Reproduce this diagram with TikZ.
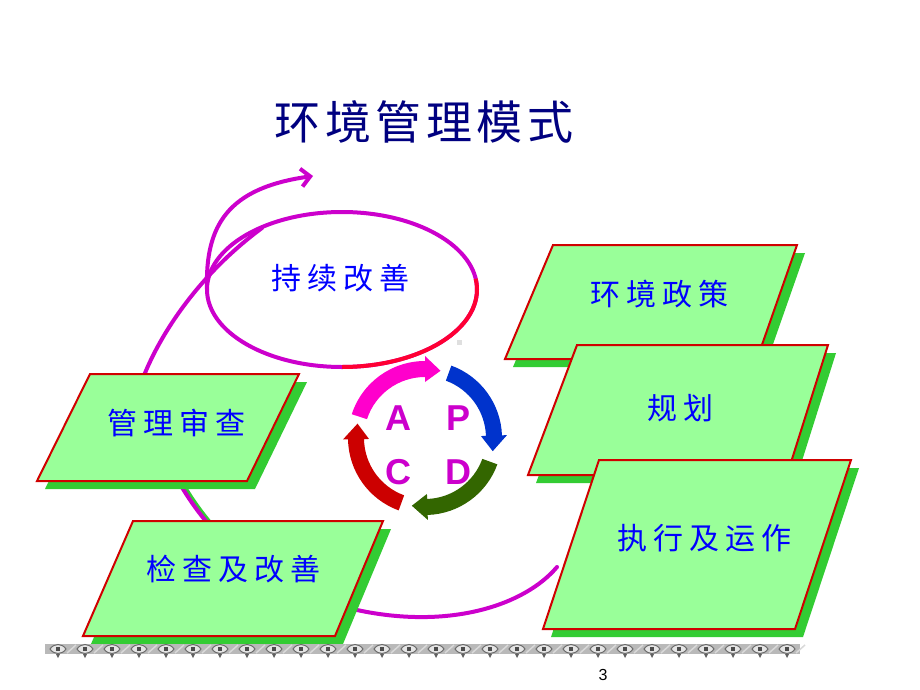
\documentclass[tikz,border=0pt]{standalone}
\usepackage{fontspec}
\setmainfont{Liberation Sans}
\newfontfamily\cjk{Noto Sans CJK SC}[LetterSpace=20]
\newfontfamily\cjktitle{Noto Sans CJK SC}[LetterSpace=10]
\usetikzlibrary{arrows.meta}
\definecolor{spiral}{HTML}{CC00CC}
\definecolor{spiralred}{HTML}{FF0033}
\definecolor{boxfill}{HTML}{99FF99}
\definecolor{boxshadow}{HTML}{33CC33}
\definecolor{boxline}{HTML}{D00000}
\definecolor{titleblue}{HTML}{000080}
\definecolor{textblue}{HTML}{0000FF}
\definecolor{pdcapink}{HTML}{FF00CC}
\definecolor{pdcablue}{HTML}{0033CC}
\definecolor{pdcagreen}{HTML}{336600}
\definecolor{pdcared}{HTML}{CC0000}
\definecolor{letter}{HTML}{CC00CC}
\begin{document}
\begin{tikzpicture}[x=1pt,y=-1pt,
  spiralline/.style={draw=spiral,line width=4pt,line cap=round},
  boxshape/.style={fill=boxfill,draw=boxline,line width=2pt,line join=miter},
  shadowshape/.style={fill=boxshadow},
  boxtext/.style={font=\cjk\fontsize{30}{30}\selectfont,text=textblue,inner sep=0pt},
  pdcaletter/.style={font=\bfseries\fontsize{36}{36}\selectfont,text=letter,inner sep=0pt}]
\useasboundingbox (0,0) rectangle (920,690);
\fill[white] (0,0) rectangle (920,690);

% title
\node[font=\cjktitle\fontsize{46}{46}\selectfont,text=titleblue,inner sep=0pt] (title) at (424,122) {环境管理模式};

% spiral
\begin{scope}
  \clip (0,480) rectangle (920,530);
  \draw[draw=boxshadow,line width=4pt,xshift=3pt] (357,610) .. controls (230,590) and (150,470) .. (145,373);
\end{scope}
\draw[spiralline] (557,567) .. controls (525,605) and (450,630) .. (357,610)
  .. controls (230,590) and (150,470) .. (145,373)
  .. controls (165,325) and (205,270) .. (262,228);
\draw[spiralline] (342,289.5) ellipse [x radius=135pt, y radius=77.5pt];
\draw[spiralline,draw=spiralred,line cap=butt] (342,289.5) ++(8:135pt and 77.5pt)
  arc[start angle=8,end angle=-90,x radius=135pt,y radius=77.5pt];
\coordinate (spiraltip) at (313,176);
\draw[spiralline,-{Straight Barb[length=9pt,width=18pt]}] (207,289.5) .. controls (205,225) and (228,188) .. (spiraltip);

% left boxes
\fill[shadowshape,shift={(8,8)}] (90,374) -- (299,374) -- (247,481) -- (37,481) -- cycle;
\draw[boxshape] (90,374) -- (299,374) -- (247,481) -- (37,481) -- cycle;
\node[boxtext] (review) at (176,423) {管理审查};

\fill[shadowshape,shift={(8,8)}] (133,521) -- (383,521) -- (335,636) -- (83,636) -- cycle;
\draw[boxshape] (133,521) -- (383,521) -- (335,636) -- (83,636) -- cycle;
\node[boxtext] (check) at (233,569) {检查及改善};

% right boxes
\fill[shadowshape,shift={(8,8)}] (553,245) -- (797,245) -- (757,359) -- (505,359) -- cycle;
\draw[boxshape] (553,245) -- (797,245) -- (757,359) -- (505,359) -- cycle;
\node[boxtext] (policy) at (659,294) {环境政策};

\fill[shadowshape,shift={(8,8)}] (577,345) -- (828,345) -- (787,475) -- (528,475) -- cycle;
\draw[boxshape] (577,345) -- (828,345) -- (787,475) -- (528,475) -- cycle;
\node[boxtext] (plan) at (680,408) {规划};

\fill[shadowshape,shift={(8,8)}] (599,460) -- (851,460) -- (795,629) -- (543,629) -- cycle;
\draw[boxshape] (599,460) -- (851,460) -- (795,629) -- (543,629) -- cycle;
\node[boxtext] (operate) at (704,538) {执行及运作};

% continual improvement text
\node[boxtext] (improve) at (340,278) {持续改善};

% PDCA
\begin{scope}[shift={(425,438)}]
  \foreach \col/\s/\t in {pdcapink/162/77, pdcablue/70/-11, pdcagreen/-20/-101, pdcared/-110/-192}{
    \pgfmathsetmacro\b{\t+13}
    \fill[\col] (\s:77pt) arc[start angle=\s,end angle=\b,radius=77pt] -- (\b:82pt) -- (\t:69pt)
      -- (\b:56pt) -- (\b:61pt) arc[start angle=\b,end angle=\s,radius=61pt] -- cycle;
  }
\end{scope}
\node[pdcaletter] (A) at (398,418) {A};
\node[pdcaletter] (P) at (458,418) {P};
\node[pdcaletter] (C) at (398,472) {C};
\node[pdcaletter] (D) at (458,472) {D};

% small grey square
\fill[gray!25] (457,340) rectangle (462,345);

% chain border
\fill[gray!55] (45,644) rectangle (800,654);
\foreach \i in {0,...,27}{
  \pgfmathsetmacro\xc{58+27*\i}
  \filldraw[fill=gray!20,draw=gray!85!black,line width=1pt] (\xc-8,649) .. controls (\xc-4,643) and (\xc+4,643) .. (\xc+8,649) .. controls (\xc+4,655) and (\xc-4,655) .. cycle;
  \fill[gray!60!black] (\xc-2,647) rectangle (\xc+2,651);
  \fill[gray!75!black] (\xc-2,654) -- (\xc+2,654) -- (\xc,658) -- cycle;
  \draw[white!70!gray,line width=1.5pt] (\xc+9,653) -- (\xc+18,645);
}

% page number
\node[font=\fontsize{16}{16}\selectfont,inner sep=0pt] (page) at (603,675) {3};
\end{tikzpicture}
\end{document}
